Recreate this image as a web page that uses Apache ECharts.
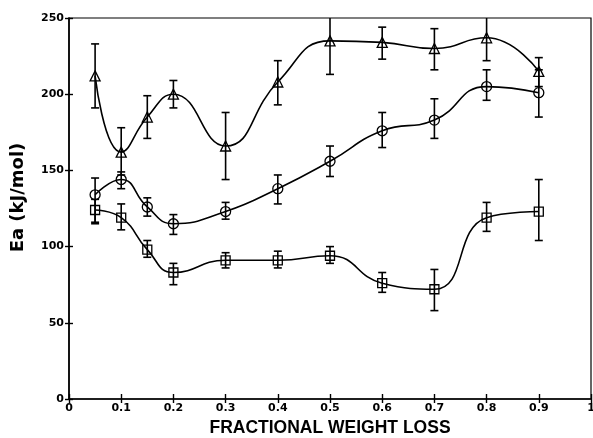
<!DOCTYPE html>
<html><head><meta charset="utf-8">
<script src="https://cdn.jsdelivr.net/npm/echarts@6/dist/echarts.min.js"></script>
<style>html,body{margin:0;padding:0;background:#fff}#c{width:593px;height:438px}</style>
</head><body><div id="c"></div>
<script>
const xs = [0.05,0.1,0.15,0.2,0.3,0.4,0.5,0.6,0.7,0.8,0.9];
const tri   = [212,162,185,200,166,208,235,234,230,237,215];
const triHi = [233,178,199,209,188,222,251,244,243,252,224];
const triLo = [191,147,171,191,144,193,213,223,216,222,205];
const circ   = [134,144,126,115,123,138,156,176,183,205,201];
const circHi = [145,149,132,121,129,147,166,188,197,216,216];
const circLo = [116,138,120,108,118,128,146,165,171,196,185];
const sq   = [124,119,98,83,91,91,94,76,72,119,123];
const sqHi = [131,128,104,89,96,97,100,83,85,129,144];
const sqLo = [115,111,93,75,86,86,89,70,58,110,104];
const xTicks = [0,0.1,0.2,0.3,0.4,0.5,0.6,0.7,0.8,0.9,1];
const yTicks = [0,50,100,150,200,250];

const TICKFONT = 'DejaVu Sans';
const TITLEFONT = 'Liberation Sans';
const pts = (v) => xs.map((x,i)=>[x,v[i]]);
const errData = (hi,lo) => xs.map((x,i)=>[x,lo[i],hi[i]]);
function errSeries(hi,lo){
  return {
    type:'custom', clip:true, z:5,
    data: errData(hi,lo),
    renderItem:function(params, api){
      const x = api.value(0);
      const p1 = api.coord([x, api.value(1)]);
      const p2 = api.coord([x, api.value(2)]);
      const w = 4;
      const st = {stroke:'#000', lineWidth:1.6};
      return {type:'group', children:[
        {type:'line', shape:{x1:p1[0],y1:p1[1],x2:p2[0],y2:p2[1]}, style:st},
        {type:'line', shape:{x1:p1[0]-w,y1:p1[1],x2:p1[0]+w,y2:p1[1]}, style:st},
        {type:'line', shape:{x1:p2[0]-w,y1:p2[1],x2:p2[0]+w,y2:p2[1]}, style:st}
      ]};
    }
  };
}
function lineSeries(v, symbol, size){
  return {
    type:'line', data: pts(v), smooth:true, symbol:symbol, symbolSize:size,
    lineStyle:{color:'#000', width:1.6},
    itemStyle:{color:'rgba(0,0,0,0)', borderColor:'#000', borderWidth:1.3},
    z:4, animation:false
  };
}
const chart = echarts.init(document.getElementById('c'));
const axLbl = {color:'#000', fontFamily:TICKFONT, fontWeight:'bold', fontSize:11};
chart.setOption({
  animation:false,
  grid:{left:69, right:2, top:18, bottom:39, containLabel:false, outerBoundsMode:'none',
        show:true, borderColor:'#000', borderWidth:1.2},
  xAxis:[{
    type:'value', min:0, max:1, interval:0.1,
    axisLine:{lineStyle:{color:'#000', width:1.6}},
    axisTick:{length:4, lineStyle:{color:'#000', width:1.4}},
    axisLabel:Object.assign({margin:4, formatter:function(v){
      const t = xTicks.find(k=>Math.abs(k-v)<1e-6); return t===undefined?'':String(t);}}, axLbl),
    splitLine:{show:false},
    name:'FRACTIONAL WEIGHT LOSS', nameLocation:'middle', nameGap:20,
    nameTextStyle:{color:'#000', fontFamily:TITLEFONT, fontWeight:'bold', fontSize:17.5}
  },{
    type:'value', min:0, max:1, interval:0.1, position:'bottom',
    axisLine:{show:false}, axisLabel:{show:false}, splitLine:{show:false},
    axisTick:{inside:true, length:5, lineStyle:{color:'#000', width:1.4}}
  }],
  yAxis:[{
    type:'value', min:0, max:250, interval:50,
    axisLine:{show:true, lineStyle:{color:'#000', width:1.6}},
    axisTick:{show:true, length:4, lineStyle:{color:'#000', width:1.4}},
    axisLabel:Object.assign({margin:5, formatter:function(v){
      const t = yTicks.find(k=>k===v); return t===undefined?'':String(t);}}, axLbl),
    splitLine:{show:false},
    name:'Ea (kJ/mol)', nameLocation:'middle', nameGap:42,
    nameTextStyle:{color:'#000', fontFamily:TICKFONT, fontWeight:'bold', fontSize:18, padding:[0,0,0,22]}
  },{
    type:'value', min:0, max:250, interval:50, position:'left',
    axisLine:{show:false}, axisLabel:{show:false}, splitLine:{show:false},
    axisTick:{show:true, inside:true, length:4, lineStyle:{color:'#000', width:1.4}}
  }],
  series:[
    lineSeries(tri,'triangle',10),
    lineSeries(circ,'circle',10),
    lineSeries(sq,'rect',9),
    errSeries(triHi,triLo),
    errSeries(circHi,circLo),
    errSeries(sqHi,sqLo)
  ]
});
</script></body></html>
